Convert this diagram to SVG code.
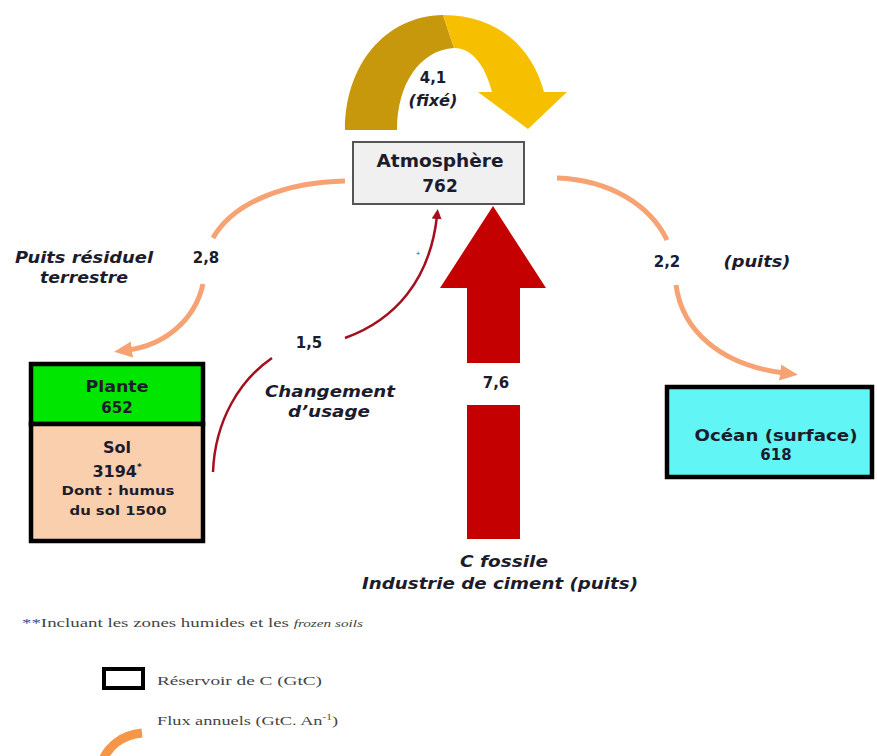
<svg xmlns="http://www.w3.org/2000/svg" width="877" height="756" viewBox="0 0 877 756">
<style>
.b{font-family:"DejaVu Sans","Liberation Sans",sans-serif;font-weight:bold;fill:#1c1c2c;text-anchor:middle}
.bi{font-family:"DejaVu Sans","Liberation Sans",sans-serif;font-weight:bold;font-style:italic;fill:#1c1c2c;text-anchor:middle}
.s{font-family:"Liberation Serif",serif;fill:#444;font-size:13px}
.flux{fill:none;stroke:#f6a272;stroke-width:5}
.red{fill:none;stroke:#a3101e;stroke-width:2.5}
.box{stroke:#000;stroke-width:4.5}
</style>
<defs>
<marker id="oa" markerUnits="userSpaceOnUse" markerWidth="20" markerHeight="20" refX="4" refY="10" orient="auto">
<path d="M0,2 L18,10 L0,18 Z" fill="#f6a272"/>
</marker>
<marker id="ra" markerUnits="userSpaceOnUse" markerWidth="12" markerHeight="12" refX="3" refY="6" orient="auto">
<path d="M0,1 L10,6 L0,11 Z" fill="#a3101e"/>
</marker>
</defs>
<rect width="877" height="756" fill="#fff"/>

<g id="connectors">
<!-- yellow cycle arrow -->
<path d="M345,130 C345,65 385,16 443,15 L454,48 C420,50 397,84 397,130 Z" fill="#c8980c"/>
<path d="M443,15 C500,15 533,50 544,92 L567,92 L528,129 L478,92 L492,92 C485,65 472,48 454,48 Z" fill="#f6c000"/>
<!-- orange flux arcs -->
<path class="flux" d="M345,181 C290,182 235,200 213,238"/>
<path class="flux" d="M203,284 C195,320 165,345 128,350" marker-end="url(#oa)"/>
<path class="flux" d="M557,178 C610,180 650,205 667,240"/>
<path class="flux" d="M676,285 C682,330 720,365 784,373" marker-end="url(#oa)"/>
<!-- red land-use arc -->
<path class="red" d="M213,472 C215,420 240,380 272,358"/>
<path class="red" d="M345,338 C395,320 430,280 437,216" marker-end="url(#ra)"/>
<!-- big red fossil arrow -->
<polygon points="493,206 546,288 520,288 520,363 467,363 467,288 440,288" fill="#c40000"/>
<rect x="467" y="405" width="53" height="134" fill="#c40000"/>
</g>

<g id="atmosphere">
<rect x="353" y="142" width="171" height="62" fill="#f0f0f0" stroke="#555" stroke-width="2"/>
<text class="b" x="440" y="167" font-size="17" textLength="127" lengthAdjust="spacingAndGlyphs">Atmosphère</text>
<text class="b" x="440" y="192" font-size="17">762</text>
</g>

<g id="plante">
<rect class="box" x="31" y="364" width="172" height="60" fill="#00e600"/>
<text class="b" x="117" y="392" font-size="15" textLength="63" lengthAdjust="spacingAndGlyphs">Plante</text>
<text class="b" x="117" y="413" font-size="15">652</text>
</g>

<g id="sol">
<rect class="box" x="31" y="424" width="172" height="117" fill="#f9cfae"/>
<text class="b" x="117" y="453" font-size="16">Sol</text>
<text class="b" x="117" y="477" font-size="16">3194<tspan font-size="9" dy="-7">*</tspan></text>
<text class="b" x="118" y="495" font-size="13" textLength="113" lengthAdjust="spacingAndGlyphs">Dont : humus</text>
<text class="b" x="118" y="515" font-size="13" textLength="97" lengthAdjust="spacingAndGlyphs">du sol 1500</text>
</g>

<g id="ocean">
<rect class="box" x="667" y="387" width="205" height="90" fill="#62f5f5"/>
<text class="b" x="776" y="441" font-size="15" textLength="163" lengthAdjust="spacingAndGlyphs">Océan (surface)</text>
<text class="b" x="776" y="460" font-size="15">618</text>
</g>

<g id="labels">
<text class="b" x="433" y="83" font-size="15">4,1</text>
<text class="bi" x="433" y="106" font-size="15" textLength="49" lengthAdjust="spacingAndGlyphs">(fixé)</text>
<text class="bi" x="84" y="263" font-size="16" textLength="138" lengthAdjust="spacingAndGlyphs">Puits résiduel</text>
<text class="bi" x="84" y="283" font-size="16" textLength="88" lengthAdjust="spacingAndGlyphs">terrestre</text>
<text class="b" x="206" y="263" font-size="15">2,8</text>
<text class="b" x="667" y="267" font-size="15">2,2</text>
<text class="bi" x="757" y="267" font-size="15" textLength="67" lengthAdjust="spacingAndGlyphs">(puits)</text>
<text class="b" x="309" y="348" font-size="15">1,5</text>
<text class="bi" x="330" y="397" font-size="16" textLength="130" lengthAdjust="spacingAndGlyphs">Changement</text>
<text class="bi" x="329" y="417" font-size="16" textLength="82" lengthAdjust="spacingAndGlyphs">d’usage</text>
<text x="418" y="256" font-family="Liberation Sans, sans-serif" font-size="7" fill="#2030c0" text-anchor="middle">+</text>
<text class="b" x="496" y="388" font-size="15">7,6</text>
<text class="bi" x="504" y="567" font-size="16" textLength="88" lengthAdjust="spacingAndGlyphs">C fossile</text>
<text class="bi" x="500" y="589" font-size="16" textLength="276" lengthAdjust="spacingAndGlyphs">Industrie de ciment (puits)</text>
</g>

<g id="legend">
<text class="s" x="22" y="627" textLength="341" lengthAdjust="spacingAndGlyphs"><tspan fill="#3a4a9a">**</tspan>Incluant les zones humides et les <tspan font-style="italic" font-size="10.5">frozen soils</tspan></text>
<rect x="104" y="669" width="39" height="19" fill="#fff" stroke="#000" stroke-width="4"/>
<text class="s" x="157" y="685" textLength="165" lengthAdjust="spacingAndGlyphs">Réservoir de C (GtC)</text>
<path d="M102,762 C108,746 122,735 142,733" fill="none" stroke="#f79646" stroke-width="9"/>
<text class="s" x="157" y="725" textLength="181" lengthAdjust="spacingAndGlyphs">Flux annuels (GtC. An<tspan font-size="8" dy="-5">-1</tspan><tspan dy="5">)</tspan></text>
</g>
</svg>
